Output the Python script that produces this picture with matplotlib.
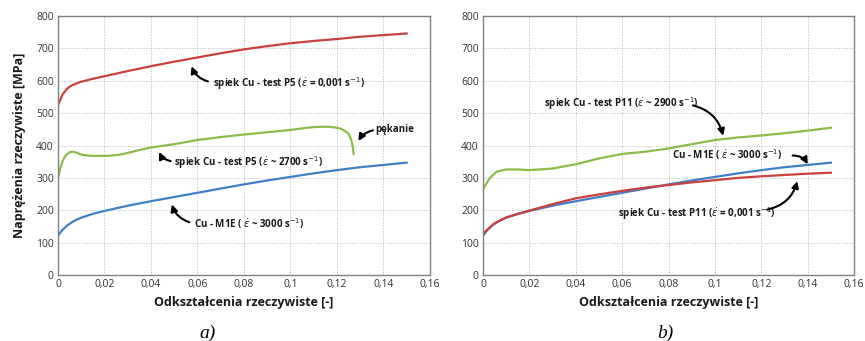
import matplotlib

matplotlib.use("Agg")
import matplotlib.pyplot as plt
import numpy as np

plt.rcParams["font.family"] = ["Open Sans", "DejaVu Sans"]
plt.rcParams["mathtext.fontset"] = "dejavusans"

# --- panel a) -------------------------------------------------------------
red_a_x = [0, 0.002, 0.004, 0.006, 0.008, 0.01, 0.015, 0.02, 0.03, 0.04, 0.05,
           0.06, 0.07, 0.08, 0.09, 0.1, 0.11, 0.12, 0.13, 0.14, 0.15]
red_a_y = [525, 558, 576, 586, 592, 597, 606, 614, 630, 645, 659,
           672, 685, 697, 707, 716, 723, 729, 736, 741, 746]

green_a_x = [0, 0.001, 0.002, 0.003, 0.004, 0.005, 0.0063, 0.008, 0.01, 0.014, 0.021,
             0.026, 0.03, 0.035, 0.04, 0.05, 0.06, 0.07, 0.08, 0.09, 0.1,
             0.105, 0.11, 0.1146, 0.118, 0.12, 0.122, 0.1249, 0.1262, 0.1268, 0.1272]
green_a_y = [300, 330, 352, 366, 374, 379, 381, 378, 372, 368, 368,
             371, 377, 386, 394, 404, 417, 426, 434, 441, 448,
             453, 457, 458, 457, 455, 451, 438, 417, 396, 374]

blue_x = [0, 0.002, 0.004, 0.006, 0.008, 0.01, 0.015, 0.02, 0.03, 0.04, 0.05,
          0.06, 0.07, 0.08, 0.09, 0.1, 0.11, 0.12, 0.13, 0.14, 0.15]
blue_y = [122, 140, 153, 163, 171, 177, 189, 198, 214, 228, 241,
          254, 267, 280, 292, 303, 314, 324, 333, 340, 347]

# --- panel b) -------------------------------------------------------------
green_b_x = [0, 0.0029, 0.0058, 0.01, 0.015, 0.02, 0.03, 0.04, 0.05, 0.06, 0.07,
             0.08, 0.09, 0.1, 0.11, 0.12, 0.13, 0.14, 0.15]
green_b_y = [266, 299, 319, 326, 326, 324, 329, 342, 360, 374, 381,
             391, 404, 417, 425, 431, 438, 446, 455]

red_b_x = [0, 0.005, 0.01, 0.02, 0.03, 0.04, 0.05, 0.06, 0.07, 0.08,
           0.09, 0.1, 0.11, 0.12, 0.13, 0.14, 0.15]
red_b_y = [128, 160, 178, 199, 219, 237, 249, 260, 270, 278,
           286, 293, 300, 305, 309, 313, 316]

x_ticks = [0, 0.02, 0.04, 0.06, 0.08, 0.1, 0.12, 0.14, 0.16]
x_tick_labels = ["0", "0,02", "0,04", "0,06", "0,08", "0,1", "0,12", "0,14", "0,16"]
y_ticks = [0, 100, 200, 300, 400, 500, 600, 700, 800]

RED = "#c9403d"
GREEN = "#8cbb4b"
BLUE = "#3f7fc6"
EPS = r"$\dot{\varepsilon}$"
LABEL_KW = dict(fontsize=7, fontweight="bold", color="#1a1a1a", va="center")


def style_axes(ax, show_ylabel):
    ax.set_xlim(0, 0.16)
    ax.set_ylim(0, 800)
    ax.set_xticks(x_ticks)
    ax.set_xticklabels(x_tick_labels)
    ax.set_yticks(y_ticks)
    ax.tick_params(length=0, labelsize=7.5, colors="#333333", pad=3)
    ax.grid(True, linestyle=":", color="#b8b8b8", linewidth=0.7)
    for sp in ax.spines.values():
        sp.set_color("#808080")
        sp.set_linewidth(1.0)
    ax.set_xlabel("Odkształcenia rzeczywiste [-]", fontsize=9, fontweight="bold",
                  color="#1a1a1a", labelpad=4)
    if show_ylabel:
        ax.set_ylabel("Naprężenia rzeczywiste [MPa]", fontsize=9, fontweight="bold",
                      color="#1a1a1a", labelpad=7)


def arrow(ax, tail, tip, rad):
    ax.annotate("", xy=tip, xytext=tail,
                arrowprops=dict(arrowstyle="-|>", connectionstyle=f"arc3,rad={rad}",
                                color="black", lw=1.5, mutation_scale=10,
                                shrinkA=0, shrinkB=0))


fig = plt.figure(figsize=(8.65, 3.41), dpi=100)
ax_a = fig.add_axes([0.067, 0.1935, 0.430, 0.7595])
ax_b = fig.add_axes([0.5584, 0.1935, 0.429, 0.7595])

# panel a)
ax_a.plot(red_a_x, red_a_y, color=RED, lw=1.6)
ax_a.plot(green_a_x, green_a_y, color=GREEN, lw=1.6)
ax_a.plot(blue_x, blue_y, color=BLUE, lw=1.6)
style_axes(ax_a, True)

ax_a.text(0.0665, 590, f"spiek Cu - test P5 ({EPS} = 0,001 s$^{{-1}}$)", **LABEL_KW)
arrow(ax_a, (0.0645, 598), (0.0575, 645), -0.25)
ax_a.text(0.050, 348, f"spiek Cu - test P5 ({EPS} ~ 2700 s$^{{-1}}$)", **LABEL_KW)
arrow(ax_a, (0.0485, 352), (0.0435, 380), -0.25)
ax_a.text(0.0585, 158, f"Cu - M1E ( {EPS} ~ 3000 s$^{{-1}}$)", **LABEL_KW)
arrow(ax_a, (0.0565, 163), (0.049, 218), -0.25)
ax_a.text(0.1365, 450, "pękanie", **LABEL_KW)
arrow(ax_a, (0.1355, 447), (0.1292, 414), 0.2)
fig.text(0.24, 0.008, "a)", fontsize=14, style="italic",
         family="Liberation Serif", ha="center")

# panel b)
ax_b.plot(green_b_x, green_b_y, color=GREEN, lw=1.6)
ax_b.plot(blue_x, blue_y, color=BLUE, lw=1.6)
ax_b.plot(red_b_x, red_b_y, color=RED, lw=1.6)
style_axes(ax_b, False)

ax_b.text(0.0265, 528, f"spiek Cu - test P11 ({EPS} ~ 2900 s$^{{-1}}$)", **LABEL_KW)
arrow(ax_b, (0.0905, 524), (0.1035, 430), -0.3)
ax_b.text(0.0815, 371, f"Cu - M1E ( {EPS} ~ 3000 s$^{{-1}}$)", **LABEL_KW)
arrow(ax_b, (0.1335, 369), (0.140, 342), -0.3)
ax_b.text(0.058, 191, f"spiek Cu - test P11 ({EPS} = 0,001 s$^{{-1}}$)", **LABEL_KW)
arrow(ax_b, (0.1225, 202), (0.1355, 290), 0.3)
fig.text(0.769, 0.008, "b)", fontsize=14, style="italic",
         family="Liberation Serif", ha="center")

fig.savefig("out.png", dpi=100)
